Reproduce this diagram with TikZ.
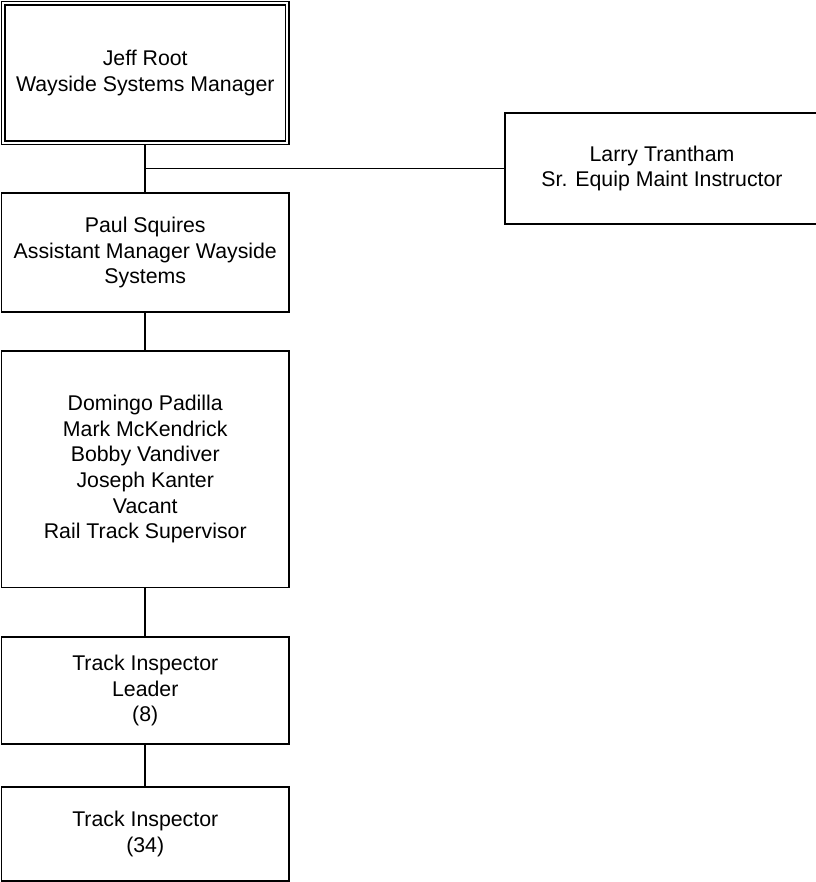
\documentclass[tikz,border=0pt]{standalone}
\usepackage{fontspec}
\setmainfont{Liberation Sans}
\usetikzlibrary{backgrounds}
\begin{document}
\begin{tikzpicture}[x=1pt,y=-1pt,
  orgbox/.style={draw=black, line width=1.7pt, fill=white, inner sep=0pt, align=center,
    minimum width=287.5pt, font=\fontsize{21.3}{25.6}\selectfont},
  conn/.style={draw=black, line width=1.7pt}]
\useasboundingbox (0,0) rectangle (815,882);
\node[orgbox, minimum height=143pt] (jeff) at (145.25,73) {Jeff Root\\Wayside Systems Manager};
\draw[conn] ([shift={(4.5,4.5)}]jeff.north west) rectangle ([shift={(-4.5,-4.5)}]jeff.south east);
\node[orgbox, minimum width=314pt, minimum height=111pt] (larry) at (662,168.5) {Larry Trantham\\Sr. Equip Maint Instructor};
\node[orgbox, minimum height=119pt] (paul) at (145.25,252.5) {Paul Squires\\Assistant Manager Wayside\\Systems};
\node[orgbox, minimum height=236.5pt] (sup) at (145.25,469.25) {Domingo Padilla\\Mark McKendrick\\Bobby Vandiver\\Joseph Kanter\\Vacant\\Rail Track Supervisor};
\node[orgbox, minimum height=107pt] (lead) at (145.25,690.5) {Track Inspector\\Leader\\(8)};
\node[orgbox, minimum height=94pt] (insp) at (145.25,834) {Track Inspector\\(34)};
\coordinate (j) at (145.25,168.5);
\begin{pgfonlayer}{background}
\draw[conn] (jeff.south) -- (paul.north);
\draw[conn] (j) -- (larry.west);
\draw[conn] (paul.south) -- (sup.north);
\draw[conn] (sup.south) -- (lead.north);
\draw[conn] (lead.south) -- (insp.north);
\end{pgfonlayer}
\end{tikzpicture}
\end{document}
